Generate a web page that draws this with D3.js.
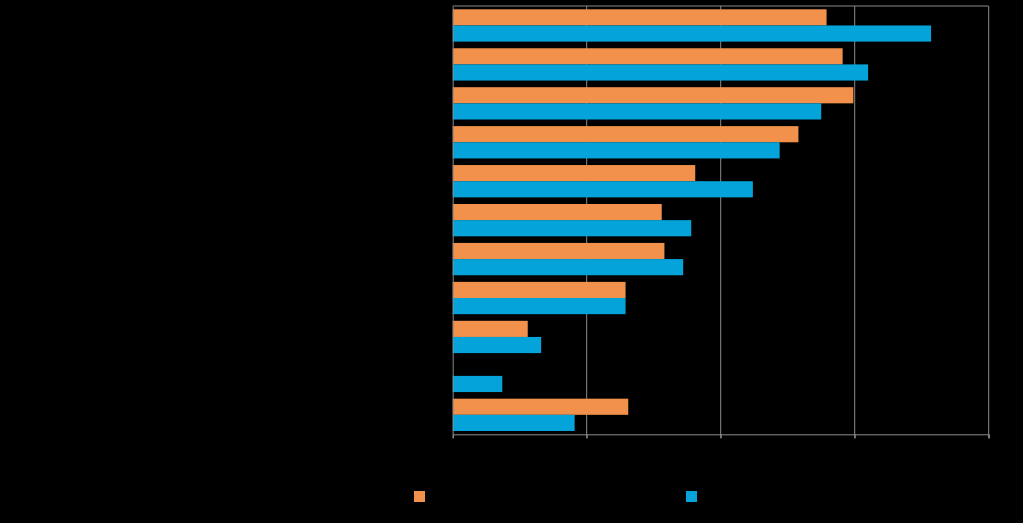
<!DOCTYPE html>
<html>
<head>
<meta charset="utf-8">
<script src="https://cdn.jsdelivr.net/npm/d3@7"></script>
<style>
  html, body { margin: 0; padding: 0; background: #000; }
  svg { display: block; }
</style>
</head>
<body>
<svg id="chart" width="1023" height="523"></svg>
<script>
// Data (category labels are not legible in the reference: rendered black on black)
const categories = ["1", "2", "3", "4", "5", "6", "7", "8", "9", "10", "11"];
const seriesNames = ["Series 1", "Series 2"];
const seriesA = [27.9, 29.1, 29.9, 25.8, 18.1, 15.6, 15.8, 12.9, 5.6, 0, 13.1];
const seriesB = [35.7, 31.0, 27.5, 24.4, 22.4, 17.8, 17.2, 12.9, 6.6, 3.7, 9.1];
const xTicks = [0, 10, 20, 30, 40];
const colors = ["#F2914B", "#04A4DA"];

const svg = d3.select("#chart");
const W = 1023, H = 523;
svg.append("rect").attr("width", W).attr("height", H).attr("fill", "#000");

const plot = { left: 452.7, right: 988.7, top: 6, bottom: 434.3 };

const x = d3.scaleLinear().domain([0, 40]).range([plot.left, plot.right]);
const y = d3.scaleBand().domain(categories).range([plot.top, plot.bottom])
  .paddingInner(0.17).paddingOuter(0.085);
const sub = d3.scaleBand().domain([0, 1]).range([0, y.bandwidth()]);

const grid = svg.append("g");
grid.selectAll("line").data(xTicks.slice(1)).join("line")
  .attr("x1", d => x(d)).attr("x2", d => x(d))
  .attr("y1", plot.top).attr("y2", plot.bottom + 4)
  .attr("stroke", "#8a8a8a").attr("stroke-width", 1);

// top border
svg.append("line").attr("x1", plot.left).attr("x2", plot.right)
  .attr("y1", plot.top).attr("y2", plot.top)
  .attr("stroke", "#8a8a8a").attr("stroke-width", 1);

const data = categories.map((c, i) => ({ c, vals: [seriesA[i], seriesB[i]] }));
const groups = svg.append("g").selectAll("g").data(data).join("g")
  .attr("transform", d => `translate(0,${y(d.c)})`);
groups.selectAll("rect").data(d => d.vals.map((v, k) => ({ v, k }))).join("rect")
  .attr("x", x(0))
  .attr("y", d => sub(d.k))
  .attr("width", d => x(d.v) - x(0))
  .attr("height", sub.bandwidth())
  .attr("fill", d => colors[d.k]);

// axes
const xAxis = d3.axisBottom(x).tickValues(xTicks).tickSize(4).tickFormat(d => d + " %");
const gx = svg.append("g").attr("transform", `translate(0,${plot.bottom})`).call(xAxis);
gx.select(".domain").attr("stroke", "#8a8a8a");
gx.selectAll(".tick line").attr("stroke", "#8a8a8a");
gx.selectAll(".tick text").attr("fill", "#000").attr("font-family", "Arial, Liberation Sans, sans-serif").attr("font-size", 12);

const yAxis = d3.axisLeft(y).tickSize(0);
const gy = svg.append("g").attr("transform", `translate(${plot.left},0)`).call(yAxis);
gy.select(".domain").attr("stroke", "#8a8a8a");
gy.selectAll(".tick text").attr("fill", "#000").attr("font-family", "Arial, Liberation Sans, sans-serif").attr("font-size", 12);

// legend
const legendX = [414, 686];
const leg = svg.append("g").selectAll("g").data(seriesNames).join("g")
  .attr("transform", (d, i) => `translate(${legendX[i]},491)`);
leg.append("rect").attr("width", 11).attr("height", 11).attr("fill", (d, i) => colors[i]);
leg.append("text").attr("x", 16).attr("y", 10).text(d => d)
  .attr("fill", "#000").attr("font-family", "Arial, Liberation Sans, sans-serif").attr("font-size", 12);
</script>
</body>
</html>
